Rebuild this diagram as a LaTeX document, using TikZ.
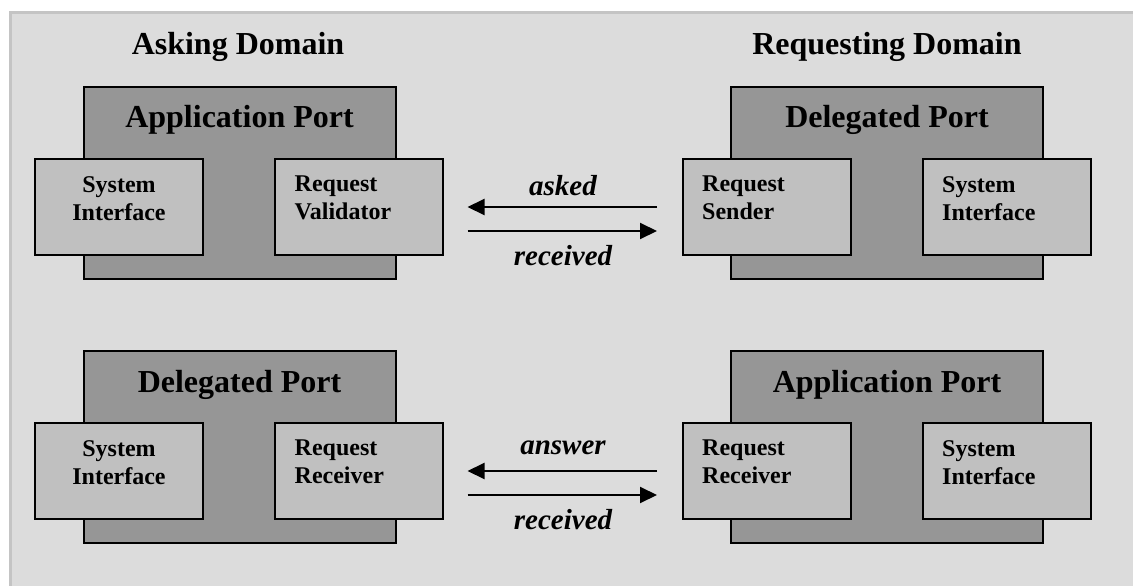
\documentclass[tikz,border=0pt]{standalone}
\usepackage{fontspec}
\setmainfont{Liberation Serif}
\usetikzlibrary{arrows.meta,positioning}

\definecolor{backgray}{RGB}{220,220,220}
\definecolor{framegray}{RGB}{196,196,196}
\definecolor{portgray}{RGB}{150,150,150}
\definecolor{partgray}{RGB}{192,192,192}

\tikzset{
	port/.style = {
			draw, fill = portgray,
			line width = 2pt,
			minimum width = 312pt,
			minimum height = 192pt,
			inner sep = 0pt,
		},
	part/.style = {
			draw, fill = partgray,
			line width = 2pt,
			minimum width = 168pt,
			minimum height = 96pt,
			inner sep = 0pt,
		},
	domaintext/.style = {font=\bfseries\fontsize{32}{36}\selectfont, inner sep=0pt, anchor=base},
	porttext/.style = {font=\bfseries\fontsize{32}{36}\selectfont, inner sep=0pt, anchor=base},
	parttext/.style = {font=\bfseries\fontsize{24}{28}\selectfont, inner sep=0pt},
	flowtext/.style = {font=\bfseries\itshape\fontsize{29}{32}\selectfont, inner sep=0pt, anchor=base},
	flow/.style = {line width=2pt, -{Triangle[length=17pt,width=16pt]}},
}

\begin{document}
\begin{tikzpicture}[x=1pt, y=-1pt]
	\useasboundingbox (0,0) rectangle (1133,586);
	\fill[backgray] (10,13) rectangle (1140,600);
	\draw[framegray, line width=3pt] (10,600) -- (10,13) -- (1140,13);

	% domains
	\node[domaintext] (askD) at (238,55) {Asking Domain};
	\node[domaintext] (reqD) at (887,55) {Requesting Domain};

	% asking side
	\node[port] (aApp) at (239.5,183) {};
	\node[porttext] (aAppT) at (239.5,128) {Application Port};
	\node[part] (aSys) at (119,207) {};
	\node[part] (aVal) at (358.5,207) {};
	\node[parttext, anchor=north, align=center] (aSysT) at ([yshift=-18pt]aSys.north) {System\\Interface};
	\node[parttext, anchor=north west, align=left] (aValT) at ([xshift=21pt,yshift=-18pt]aVal.north west) {Request\\Validator};

	\node[port] (aDel) at (239.5,447) {};
	\node[porttext] (aDelT) at (239.5,392) {Delegated Port};
	\node[part] (aSys2) at (119,471) {};
	\node[part] (aRcv) at (358.5,471) {};
	\node[parttext, anchor=north, align=center] (aSys2T) at ([yshift=-18pt]aSys2.north) {System\\Interface};
	\node[parttext, anchor=north west, align=left] (aRcvT) at ([xshift=21pt,yshift=-18pt]aRcv.north west) {Request\\Receiver};

	% requesting side
	\node[port] (rDel) at (887,183) {};
	\node[porttext] (rDelT) at (887,128) {Delegated Port};
	\node[part] (rSnd) at (767,207) {};
	\node[part] (rSys) at (1007,207) {};
	\node[parttext, anchor=north west, align=left] (rSndT) at ([xshift=20pt,yshift=-18pt]rSnd.north west) {Request\\Sender};
	\node[parttext, anchor=north west, align=left] (rSysT) at ([xshift=20pt,yshift=-18pt]rSys.north west) {System\\Interface};

	\node[port] (rApp) at (887,447) {};
	\node[porttext] (rAppT) at (887,392) {Application Port};
	\node[part] (rRcv) at (767,471) {};
	\node[part] (rSys2) at (1007,471) {};
	\node[parttext, anchor=north west, align=left] (rRcvT) at ([xshift=20pt,yshift=-18pt]rRcv.north west) {Request\\Receiver};
	\node[parttext, anchor=north west, align=left] (rSys2T) at ([xshift=20pt,yshift=-18pt]rSys2.north west) {System\\Interface};

	% messages
	\draw[flow] ([xshift=-25pt]rSnd.west) -- ([xshift=24pt]aVal.east);
	\draw[flow] ([xshift=24pt,yshift=-24pt]aVal.east) -- ([xshift=-25pt,yshift=-24pt]rSnd.west);
	\node[flowtext] (askT) at (563,195) {asked};
	\node[flowtext] (recT) at (563,265) {received};

	\draw[flow] ([xshift=-25pt]rRcv.west) -- ([xshift=24pt]aRcv.east);
	\draw[flow] ([xshift=24pt,yshift=-24pt]aRcv.east) -- ([xshift=-25pt,yshift=-24pt]rRcv.west);
	\node[flowtext] (ansT) at (563,454) {answer};
	\node[flowtext] (rec2T) at (563,529) {received};

\end{tikzpicture}
\end{document}
